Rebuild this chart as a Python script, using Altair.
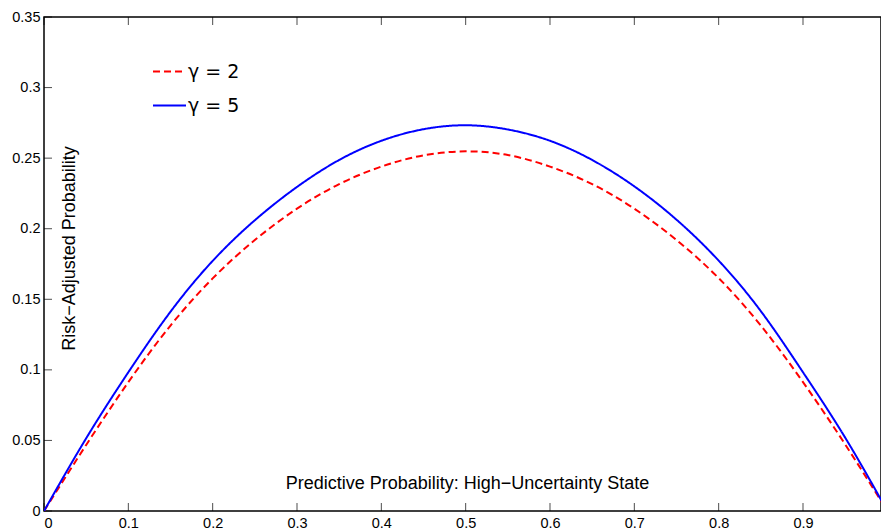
import altair as alt
import pandas as pd

# ---- data ----
p_values = [0.0, 0.05, 0.10, 0.15, 0.20, 0.25, 0.30, 0.35, 0.40, 0.45, 0.50,
            0.55, 0.60, 0.65, 0.70, 0.75, 0.80, 0.85, 0.90, 0.95, 1.0]
gamma2_values = [0.0, 0.0468, 0.0913, 0.1314, 0.1648, 0.1920, 0.2142, 0.2316, 0.2440, 0.2520, 0.2548,
                 0.2522, 0.2440, 0.2316, 0.2142, 0.1920, 0.1650, 0.1314, 0.0913, 0.0472, 0.0]
gamma5_values = [0.0, 0.0515, 0.0983, 0.1412, 0.1772, 0.2060, 0.2296, 0.2487, 0.2623, 0.2705, 0.2733,
                 0.2703, 0.2623, 0.2487, 0.2300, 0.2064, 0.1774, 0.1416, 0.0983, 0.0520, 0.0]
series_labels = ["γ = 2", "γ = 5"]
x_ticks = [0, 0.1, 0.2, 0.3, 0.4, 0.5, 0.6, 0.7, 0.8, 0.9]
y_ticks = [0, 0.05, 0.1, 0.15, 0.2, 0.25, 0.3, 0.35]

rows = []
for p, v in zip(p_values, gamma2_values):
    rows.append({"p": p, "v": v, "series": series_labels[0]})
for p, v in zip(p_values, gamma5_values):
    rows.append({"p": p, "v": v, "series": series_labels[1]})
df = pd.DataFrame(rows)
xt = pd.DataFrame({"p": x_ticks})
yt = pd.DataFrame({"v": y_ticks})

W, H = 837, 494
FONT = "Liberation Sans"

x_scale = alt.Scale(domain=[0, 0.9925], nice=False, zero=False)
y_scale = alt.Scale(domain=[0, 0.35], nice=False)

x_enc = alt.X("p:Q", scale=x_scale,
              axis=alt.Axis(values=x_ticks, format="~g", ticks=False, domain=False, grid=False,
                            labelPadding=5, labelBaseline="top",
                            title="Predictive Probability: High−Uncertainty State",
                            titleFontSize=18, titleFont=FONT, titleFontWeight="normal",
                            titleX=423, titleY=-23, titleAlign="center",
                            titleBaseline="alphabetic", titleAnchor="start"))
y_enc = alt.Y("v:Q", scale=y_scale,
              axis=alt.Axis(values=y_ticks, format="~g", ticks=False, domain=False, grid=False,
                            labelPadding=4,
                            title="Risk−Adjusted Probability",
                            titleFontSize=18, titleFont=FONT, titleFontWeight="normal",
                            titleX=30, titleY=231, titleAngle=270, titleAlign="center",
                            titleBaseline="alphabetic", titleAnchor="start"))

legend = alt.Legend(orient="none", legendX=108, legendY=37, title=None,
                    symbolType="stroke", symbolSize=1089, symbolStrokeWidth=2,
                    labelFontSize=19, labelFont="DejaVu Sans", labelColor="black",
                    labelOffset=1, rowPadding=6, padding=0)

lines = alt.Chart(df).mark_line(strokeWidth=2, interpolate="natural", clip=True).encode(
    x=x_enc,
    y=y_enc,
    color=alt.Color("series:N", scale=alt.Scale(domain=series_labels, range=["#ff0000", "#0000ff"]),
                    legend=legend),
    strokeDash=alt.StrokeDash("series:N", scale=alt.Scale(domain=series_labels, range=[[7, 4], [1, 0]]),
                              legend=legend),
)

bottom_ticks = alt.Chart(xt).mark_tick(orient="vertical", size=8, thickness=1, color="black").encode(
    x=x_enc, y=alt.value(H - 4))
top_ticks = alt.Chart(xt).mark_tick(orient="vertical", size=8, thickness=1, color="black").encode(
    x=x_enc, y=alt.value(4))
left_ticks = alt.Chart(yt).mark_tick(orient="horizontal", size=8, thickness=1, color="black").encode(
    y=y_enc, x=alt.value(4))

chart = alt.layer(bottom_ticks, top_ticks, left_ticks, lines).properties(
    width=W, height=H,
    autosize=alt.AutoSizeParams(type="none"),
    padding={"left": 44, "top": 17, "right": 0, "bottom": 21},
    background="white",
).configure_view(
    stroke="black", strokeWidth=1.5
).configure_axis(
    labelFont=FONT, labelFontSize=14.5, labelColor="black",
    titleFont=FONT, titleFontSize=18, titleFontWeight="normal", titleColor="black",
)

chart.save("out.html", embed_options={"renderer": "svg", "actions": False})
